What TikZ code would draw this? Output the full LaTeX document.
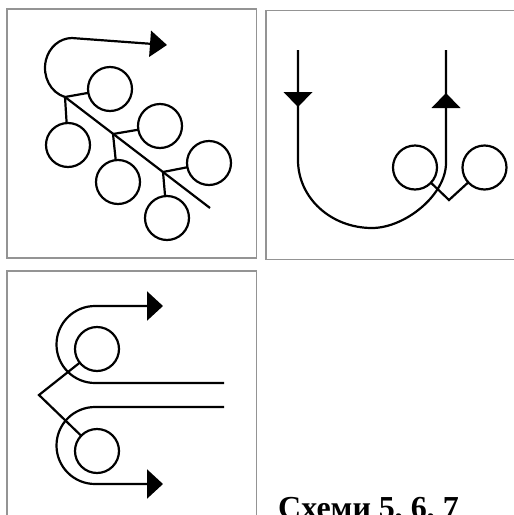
\documentclass[tikz,border=0pt]{standalone}
\usepackage{fontspec}
\setmainfont{Liberation Serif}
\usetikzlibrary{arrows.meta}
\begin{document}
\begin{tikzpicture}[x=1pt,y=-1pt,
  frame/.style={draw=black!42, line width=1.3pt},
  ln/.style={line width=2.2pt, line cap=butt, line join=miter},
  ring/.style={circle, draw, line width=2.2pt, minimum size=44pt, inner sep=0pt, outer sep=0pt},
  tipa/.style={-{Triangle[length=17pt,width=26pt]}},
  tipc/.style={-{Triangle[length=16pt,width=29pt]}}]
\useasboundingbox (0,0) rectangle (514,515);
\clip (0,0) rectangle (514,515);
\fill[white] (0,0) rectangle (514,515);
% frames
\draw[frame] (7,9) rectangle (256.5,258);
\draw[frame] (266,10.5) rectangle (520,259.5);
\draw[frame] (7,271) rectangle (256.5,540);

% ---------- panel 1 ----------
\coordinate (J) at (65,97);
\coordinate (E) at (210,208);
\coordinate (B2) at (113,134);
\coordinate (B3) at (163,172);
\coordinate (T1) at (167,45);
\node[ring] (c1) at (110,89) {};
\node[ring] (c2) at (68,145) {};
\node[ring] (c3) at (160,126) {};
\node[ring] (c4) at (118,182) {};
\node[ring] (c5) at (209,163) {};
\node[ring] (c6) at (167,218) {};
\draw[ln] (J) -- (E);
\draw[ln] (J) -- (c1);
\draw[ln] (J) -- (c2);
\draw[ln] (B2) -- (c3);
\draw[ln] (B2) -- (c4);
\draw[ln] (B3) -- (c5);
\draw[ln] (B3) -- (c6);
\draw[ln, tipa] (J) arc[start angle=105, end angle=270, x radius=27, y radius=30] -- (T1);

% ---------- panel 2 ----------
\coordinate (L0) at (298,50);
\coordinate (R0) at (446,50);
\node[ring] (A) at (415,167.5) {};
\node[ring] (Bc) at (484.5,167.5) {};
\coordinate (V) at (449,200);
\draw[ln] (L0) -- (298,160) .. controls (298,198) and (331,228) .. (372,228)
  .. controls (405,228) and (446,195) .. (446,163) -- (R0);
\fill (283.5,92) -- (312.5,92) -- (298,107) -- cycle;
\fill (431.5,108) -- (460.5,108) -- (446,93) -- cycle;
\draw[ln] (A) -- (V) -- (Bc);

% ---------- panel 3 ----------
\coordinate (H1) at (224,383);
\coordinate (H2) at (224,407);
\coordinate (T3) at (163,306);
\coordinate (T4) at (163,484);
\node[ring] (U) at (97,349) {};
\node[ring] (D) at (97,451) {};
\coordinate (W) at (39,395);
\draw[ln, tipc] (H1) -- (95,383) arc[start angle=90, end angle=270, radius=38.5] -- (T3);
\draw[ln, tipc] (H2) -- (95,407) arc[start angle=270, end angle=90, radius=38.5] -- (T4);
\draw[ln] (U) -- (W) -- (D);

% caption
\node[anchor=base west, inner sep=0pt, font=\fontsize{32}{32}\selectfont\bfseries] (cap) at (278,518) {Схеми 5, 6, 7};
\end{tikzpicture}
\end{document}
